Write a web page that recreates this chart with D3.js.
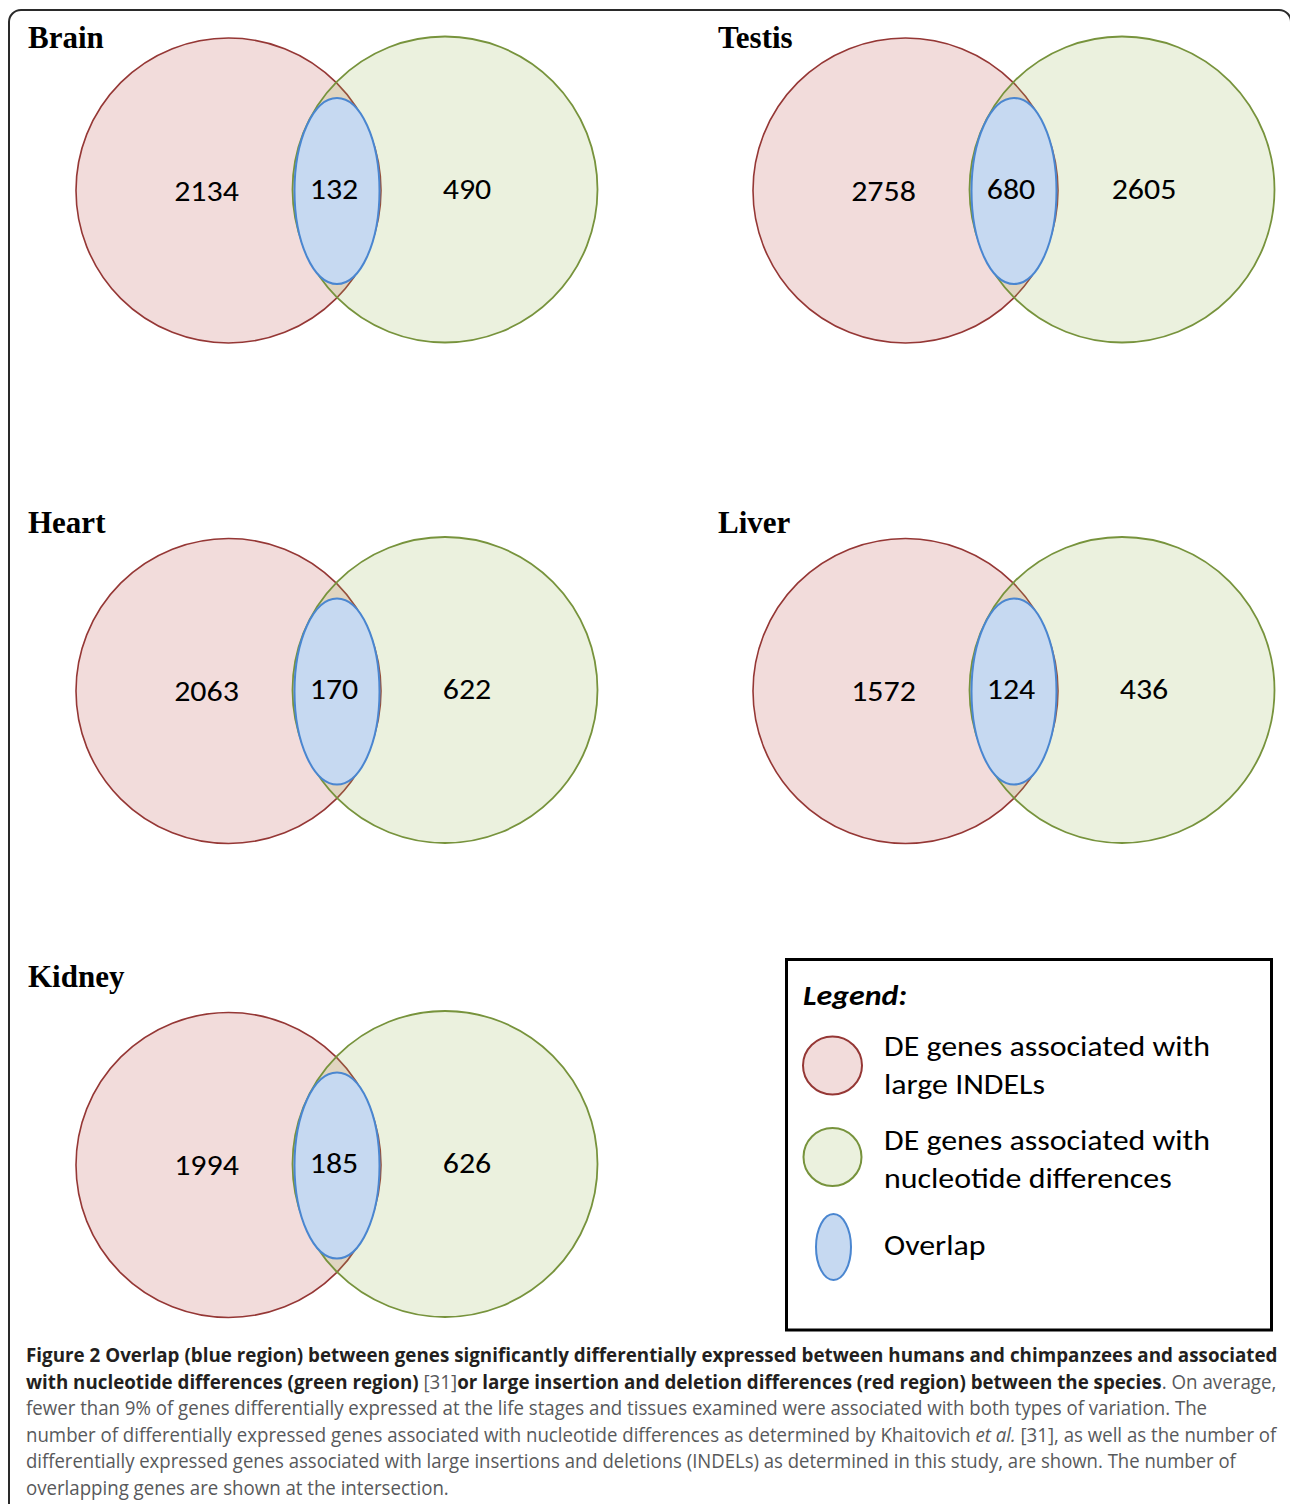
<!DOCTYPE html>
<html>
<head>
<meta charset="utf-8">
<script src="https://cdn.jsdelivr.net/npm/d3@7"></script>
<style>
  html, body { margin: 0; padding: 0; background: #fff; }
  svg { display: block; }
</style>
</head>
<body>
<svg id="chart"></svg>
<script>
const svgWidth = 1290,
    svgHeight = 1504;

// Venn counts per tissue
const tissues = ["Brain", "Testis", "Heart", "Liver", "Kidney"];
const indelOnly = [2134, 2758, 2063, 1572, 1994];
const overlapCount = [132, 680, 170, 124, 185];
const nucleotideOnly = [490, 2605, 622, 436, 626];
const panelCol = [0, 1, 0, 1, 0];
const panelRow = [0, 0, 1, 1, 2];

// legend
const legendLabels = [
    ["DE genes associated with", "large INDELs"],
    ["DE genes associated with", "nucleotide differences"],
    ["Overlap"]
];
const legendTitle = "Legend:";

// caption, one array of [text, style] per line
const captionLines = [
    [["Figure 2 Overlap (blue region) between genes significantly differentially expressed between humans and chimpanzees and associated", "b"]],
    [["with nucleotide differences (green region) ", "b"], ["[31]", "n"], ["or large insertion and deletion differences (red region) between the species", "b"], [". On average,", "n"]],
    [["fewer than 9% of genes differentially expressed at the life stages and tissues examined were associated with both types of variation. The", "n"]],
    [["number of differentially expressed genes associated with nucleotide differences as determined by Khaitovich ", "n"], ["et al.", "i"], [" [31], as well as the number of", "n"]],
    [["differentially expressed genes associated with large insertions and deletions (INDELs) as determined in this study, are shown. The number of", "n"]],
    [["overlapping genes are shown at the intersection.", "n"]]
];
const captionWidths = [1252, 1252, 1182, 1251, 1211, 423];

// colours
const redFill = "#f2dcdb", redStroke = "#953735";
const greenFill = "#9bbb59", greenStroke = "#77933c";
const blueFill = "#c6d9f1", blueStroke = "#4a86d0";

const chart = d3.select("#chart")
    .attr("width", svgWidth)
    .attr("height", svgHeight);

// frame round the figure
chart.append("rect")
    .attr("x", 9).attr("y", 10)
    .attr("width", 1282).attr("height", 1530)
    .attr("rx", 12)
    .attr("fill", "none")
    .attr("stroke", "#2a2a2a")
    .attr("stroke-width", 2);

// panel placement
var colX = d3.scaleOrdinal().domain([0, 1]).range([228.5, 905.5]);
var titleX = d3.scaleOrdinal().domain([0, 1]).range([28, 718]);
var rowY = d3.scaleOrdinal().domain([0, 1, 2]).range([190.5, 691, 1165]);
var titleY = d3.scaleOrdinal().domain([0, 1, 2]).range([48, 533, 987]);

// Calibri stand-in is narrower, stretch it sideways
const numFont = "Carlito, Calibri, Lato, 'Open Sans', sans-serif";
const stretch = 1.14;

const panels = chart.append("g").selectAll("g.panel")
    .data(tissues.map((t, i) => ({
        name: t, a: indelOnly[i], ab: overlapCount[i], b: nucleotideOnly[i],
        col: panelCol[i], row: panelRow[i]
    })))
    .enter()
    .append("g")
    .attr("class", "panel")
    .attr("transform", d => "translate(" + colX(d.col) + "," + rowY(d.row) + ")");

// red circle (large INDELs)
panels.append("ellipse")
    .attr("cx", 0).attr("cy", 0)
    .attr("rx", 152.5).attr("ry", 152.5)
    .attr("fill", redFill)
    .attr("stroke", redStroke)
    .attr("stroke-width", 1.6);

// green circle (nucleotide), see-through so the lens goes tan
panels.append("ellipse")
    .attr("cx", 216.5).attr("cy", -1)
    .attr("rx", 152.5).attr("ry", 153)
    .attr("fill", greenFill)
    .attr("fill-opacity", 0.2)
    .attr("stroke", greenStroke)
    .attr("stroke-width", 1.8);

// blue overlap
panels.append("ellipse")
    .attr("cx", 108.5).attr("cy", 0.5)
    .attr("rx", 42.5).attr("ry", 93)
    .attr("fill", blueFill)
    .attr("stroke", blueStroke)
    .attr("stroke-width", 2);

function countLabel(sel, x, y, fn) {
    sel.append("text")
        .attr("transform", "translate(" + x + "," + y + ") scale(" + stretch + ",1)")
        .attr("text-anchor", "middle")
        .style("font-family", numFont)
        .style("font-size", "28px")
        .text(fn);
}
countLabel(panels, -22, 10, d => d.a);
countLabel(panels, 105.5, 8, d => d.ab);
countLabel(panels, 238.5, 8, d => d.b);

// tissue titles
chart.append("g").selectAll("text")
    .data(tissues.map((t, i) => ({name: t, col: panelCol[i], row: panelRow[i]})))
    .enter()
    .append("text")
    .attr("x", d => titleX(d.col))
    .attr("y", d => titleY(d.row))
    .style("font-family", "'Liberation Serif', 'Times New Roman', serif")
    .style("font-weight", "bold")
    .style("font-size", "31px")
    .text(d => d.name);

// legend box
const legend = chart.append("g");
legend.append("rect")
    .attr("x", 786.5).attr("y", 959.5)
    .attr("width", 485).attr("height", 370.5)
    .attr("fill", "#fff")
    .attr("stroke", "#000")
    .attr("stroke-width", 3);

legend.append("text")
    .attr("transform", "translate(803,1005) scale(" + stretch + ",1)")
    .style("font-family", numFont)
    .style("font-weight", "bold")
    .style("font-style", "italic")
    .style("font-size", "28px")
    .text(legendTitle);

const legendSwatch = [
    {cx: 832.5, cy: 1065.5, rx: 29.5, ry: 29, fill: redFill, stroke: redStroke},
    {cx: 832.5, cy: 1157, rx: 29, ry: 29, fill: "#ebf1de", stroke: greenStroke},
    {cx: 833.5, cy: 1247, rx: 17.5, ry: 33, fill: blueFill, stroke: blueStroke}
];
const legendTextY = [[1056, 1094], [1150, 1188], [1255]];

legend.selectAll("ellipse")
    .data(legendSwatch)
    .enter()
    .append("ellipse")
    .attr("cx", d => d.cx).attr("cy", d => d.cy)
    .attr("rx", d => d.rx).attr("ry", d => d.ry)
    .attr("fill", d => d.fill)
    .attr("stroke", d => d.stroke)
    .attr("stroke-width", 2);

legendLabels.forEach(function(lines, i) {
    lines.forEach(function(line, j) {
        legend.append("text")
            .attr("transform", "translate(884," + legendTextY[i][j] + ") scale(" + stretch + ",1)")
            .style("font-family", numFont)
            .style("font-size", "28px")
            .text(line);
    });
});

// caption
const captionBase = 1362, captionStep = 26.6;
captionLines.forEach(function(segs, i) {
    var g = chart.append("g");
    var t = g.append("text")
        .attr("x", 0).attr("y", 0)
        .style("font-family", "'Open Sans', 'DejaVu Sans Condensed', sans-serif")
        .style("font-size", "20px");
    segs.forEach(function(s) {
        t.append("tspan")
            .style("font-weight", s[1] == "b" ? "bold" : "normal")
            .style("font-style", s[1] == "i" ? "italic" : "normal")
            .attr("fill", s[1] == "b" ? "#231f20" : "#58595b")
            .text(s[0]);
    });
    var w = t.node().getComputedTextLength();
    var k = captionWidths[i] / w;
    g.attr("transform", "translate(26," + (captionBase + i * captionStep) + ") scale(" + k + ",1)");
});
</script>
</body>
</html>
